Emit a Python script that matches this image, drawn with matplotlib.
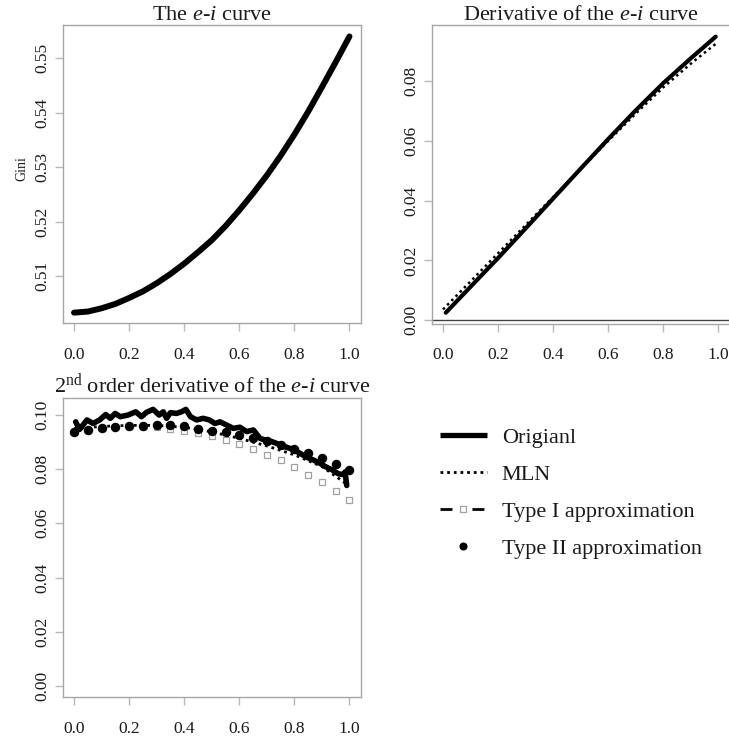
import matplotlib
matplotlib.use("Agg")
import matplotlib.pyplot as plt
from matplotlib.lines import Line2D

plt.rcParams['font.family'] = ['Liberation Serif', 'DejaVu Serif']
plt.rcParams['mathtext.fontset'] = 'custom'
plt.rcParams['mathtext.rm'] = 'Liberation Serif'
plt.rcParams['mathtext.it'] = 'Liberation Serif:italic'

# ---------------- data ----------------
# Panel 1: the e-i curve (Gini)
ei_x = [0.00, 0.05, 0.10, 0.15, 0.20, 0.25, 0.30, 0.35, 0.40, 0.45, 0.50,
        0.55, 0.60, 0.65, 0.70, 0.75, 0.80, 0.85, 0.90, 0.95, 1.00]
ei_gini = [0.5033, 0.5035, 0.5041, 0.5049, 0.5060, 0.5072, 0.5087, 0.5104,
           0.5123, 0.5144, 0.5166, 0.5192, 0.5221, 0.5252, 0.5285, 0.5321,
           0.5360, 0.5402, 0.5447, 0.5493, 0.5540]

# Panel 2: derivative
d1_orig_x = [0.01, 0.10, 0.20, 0.30, 0.40, 0.50, 0.60, 0.70, 0.80, 0.90, 0.99]
d1_orig = [0.0025, 0.0112, 0.0208, 0.0307, 0.0407, 0.0507, 0.0606, 0.0702,
           0.0793, 0.0876, 0.0948]
d1_mln_x = [0.00, 0.10, 0.20, 0.30, 0.40, 0.50, 0.60, 0.70, 0.80, 0.90, 0.99]
d1_mln = [0.0036, 0.0130, 0.0224, 0.0318, 0.0412, 0.0506, 0.0600, 0.0691,
          0.0779, 0.0858, 0.0924]

# Panel 3: second-order derivative
d2_orig_x = [0.006, 0.020, 0.047, 0.069, 0.093, 0.115, 0.132, 0.149, 0.168,
             0.196, 0.224, 0.245, 0.263, 0.287, 0.309, 0.324, 0.336, 0.350,
             0.372, 0.390, 0.406, 0.423, 0.445, 0.469, 0.491, 0.512, 0.530,
             0.554, 0.578, 0.602, 0.627, 0.651, 0.675, 0.693, 0.718, 0.742,
             0.766, 0.784, 0.802, 0.820, 0.845, 0.869, 0.893, 0.912, 0.936,
             0.960, 0.978, 0.984, 0.990]
d2_orig = [0.0975, 0.0947, 0.0982, 0.0969, 0.0982, 0.1002, 0.0988, 0.1006,
           0.0994, 0.1000, 0.1012, 0.0994, 0.1010, 0.1021, 0.1000, 0.1012,
           0.0988, 0.1009, 0.1006, 0.1012, 0.1021, 0.0994, 0.0982, 0.0988,
           0.0982, 0.0969, 0.0975, 0.0963, 0.0951, 0.0955, 0.0939, 0.0945,
           0.0914, 0.0908, 0.0902, 0.0893, 0.0883, 0.0877, 0.0869, 0.0859,
           0.0844, 0.0834, 0.0822, 0.0810, 0.0798, 0.0783, 0.0780, 0.0790,
           0.0740]
d2_mln_x = [0.00, 0.10, 0.20, 0.30, 0.40, 0.50, 0.60, 0.70, 0.80, 0.90, 0.99]
d2_mln = [0.0950, 0.0958, 0.0962, 0.0962, 0.0955, 0.0938, 0.0914, 0.0886,
          0.0853, 0.0810, 0.0745]
approx_x = [0.00, 0.05, 0.10, 0.15, 0.20, 0.25, 0.30, 0.35, 0.40, 0.45, 0.50,
            0.55, 0.60, 0.65, 0.70, 0.75, 0.80, 0.85, 0.90, 0.95, 1.00]
type1 = [0.0936, 0.0945, 0.0952, 0.0957, 0.0959, 0.0958, 0.0955, 0.0948,
         0.0940, 0.0933, 0.0921, 0.0908, 0.0893, 0.0875, 0.0853, 0.0834,
         0.0809, 0.0780, 0.0751, 0.0719, 0.0686]
type2 = [0.0936, 0.0945, 0.0952, 0.0957, 0.0960, 0.0961, 0.0962, 0.0962,
         0.0960, 0.0948, 0.0943, 0.0937, 0.0926, 0.0916, 0.0906, 0.0891,
         0.0875, 0.0859, 0.0840, 0.0820, 0.0798]

x_ticks = [0.0, 0.2, 0.4, 0.6, 0.8, 1.0]
x_ticklabels = ['0.0', '0.2', '0.4', '0.6', '0.8', '1.0']
y1_ticks = [0.51, 0.52, 0.53, 0.54, 0.55]
y2_ticks = [0.00, 0.02, 0.04, 0.06, 0.08]
y3_ticks = [0.00, 0.02, 0.04, 0.06, 0.08, 0.10]

legend_labels = ['Origianl', 'MLN', 'Type I approximation', 'Type II approximation']

# ---------------- figure ----------------
W, H = 729, 738
fig = plt.figure(figsize=(W / 100, H / 100), dpi=100)

def px_axes(l, t, r, b):
    return fig.add_axes([l / W, 1 - b / H, (r - l) / W, (b - t) / H])

ax1 = px_axes(63, 25, 360.5, 323)
ax2 = px_axes(432, 25, 729.5, 323.5)
ax3 = px_axes(63, 398, 360.5, 697)

BOX = '#a6a6a6'
TICK = '#b8b8b8'
TXT = '#1a1a1a'
DOT = (0, (1.0, 1.4))

def style(ax, yticks, ylim):
    ax.set_xlim(-0.04, 1.04)
    ax.set_ylim(*ylim)
    ax.set_xticks(x_ticks)
    ax.set_xticklabels(x_ticklabels)
    ax.set_yticks(yticks)
    ax.set_yticklabels(['%.2f' % v for v in yticks], rotation=90, va='center')
    for s in ax.spines.values():
        s.set_color(BOX)
        s.set_linewidth(1.0)
    ax.tick_params(axis='both', direction='out', length=6, width=1.0,
                   color=TICK, labelcolor=TXT, labelsize=12.5)
    ax.tick_params(axis='x', pad=11)
    ax.tick_params(axis='y', pad=3.2)

# Panel 1
ax1.plot(ei_x, ei_gini, color='black', lw=4.3, solid_capstyle='round',
         solid_joinstyle='round', zorder=3)
style(ax1, y1_ticks, (0.5014, 0.5561))
ax1.set_title('The $e$-$i$ curve', fontsize=16, pad=3, color=TXT)
ax1.set_ylabel('Gini', fontsize=10, color=TXT)
ax1.yaxis.set_label_coords(-0.118, 0.517)

# Panel 2
ax2.axhline(0, color='#444444', lw=1.0, zorder=1)
ax2.plot(d1_orig_x, d1_orig, color='black', lw=3.0, solid_capstyle='round', zorder=3)
ax2.plot(d1_mln_x, d1_mln, color='black', lw=1.8, linestyle=DOT,
         dash_capstyle='butt', zorder=4)
style(ax2, y2_ticks, (-0.0011, 0.0987))
ax2.set_title('Derivative of the $e$-$i$ curve', fontsize=16, pad=3, color=TXT)

# Panel 3
ax3.plot(d2_orig_x, d2_orig, color='black', lw=4.0, solid_joinstyle='round',
         solid_capstyle='round', zorder=3)
ax3.plot(d2_mln_x, d2_mln, color='black', lw=2.0, linestyle=DOT,
         dash_capstyle='butt', zorder=4)
ax3.plot(approx_x, type1, linestyle='none', marker='s', markersize=4.5,
         markerfacecolor='none', markeredgecolor='#a0a0a0', markeredgewidth=0.9,
         zorder=5)
ax3.plot(approx_x, type2, linestyle='none', marker='o', markersize=5.8,
         markerfacecolor='black', markeredgecolor='black', zorder=6)
style(ax3, y3_ticks, (-0.0041, 0.1063))
ax3.set_title('2$^{\\mathrm{nd}}$ order derivative of the $e$-$i$ curve',
              fontsize=16, pad=3, color=TXT)

# Legend
h_orig = Line2D([], [], color='black', lw=3.8, solid_capstyle='butt')
h_mln = Line2D([], [], color='black', lw=2.0, linestyle=DOT, dash_capstyle='butt')
h_t1_line = Line2D([], [], color='black', lw=2.0, linestyle=(0, (4.3, 7.2)),
                   dash_capstyle='butt')
h_t1_mark = Line2D([], [], linestyle='none', marker='s', markersize=4.0,
                   markerfacecolor='none', markeredgecolor='#a0a0a0',
                   markeredgewidth=0.9)
h_t2 = Line2D([], [], linestyle='none', marker='o', markersize=4.8,
              color='black')
leg = fig.legend([h_orig, h_mln, (h_t1_line, h_t1_mark), h_t2], legend_labels,
                 loc='upper left', bbox_to_anchor=(440 / W, 1 - 427 / H),
                 frameon=False, fontsize=16, borderpad=0, borderaxespad=0,
                 handlelength=2.1, handletextpad=0.68, labelspacing=0.74)
for t in leg.get_texts():
    t.set_color(TXT)

fig.savefig('out.png', dpi=100)
